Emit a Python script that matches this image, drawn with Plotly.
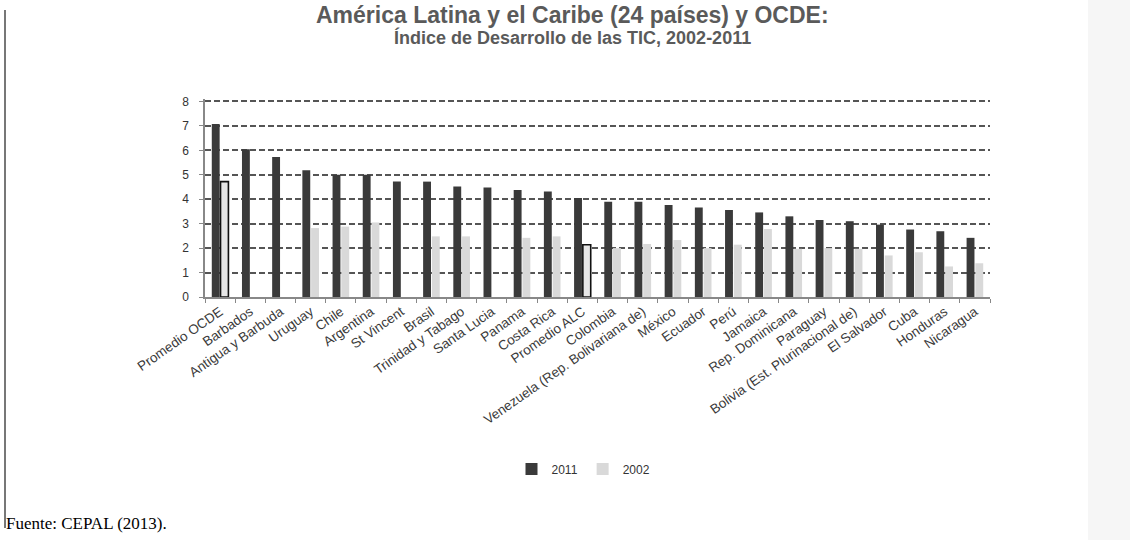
import plotly.graph_objects as go

categories = ["Promedio OCDE", "Barbados", "Antigua y Barbuda", "Uruguay", "Chile", "Argentina",
              "St Vincent", "Brasil", "Trinidad y Tabago", "Santa Lucia", "Panama", "Costa Rica",
              "Promedio ALC", "Colombia", "Venezuela (Rep. Bolivariana de)", "México", "Ecuador",
              "Perú", "Jamaica", "Rep. Dominicana", "Paraguay", "Bolivia (Est. Plurinacional de)",
              "El Salvador", "Cuba", "Honduras", "Nicaragua"]

val2011 = [7.08, 6.04, 5.73, 5.19, 5.00, 5.00, 4.72, 4.72, 4.52, 4.48, 4.38, 4.32,
           4.05, 3.90, 3.90, 3.76, 3.66, 3.56, 3.46, 3.30, 3.15, 3.10, 2.96, 2.76, 2.69, 2.42]
val2002 = [4.72, None, None, 2.82, 2.88, 3.05, None, 2.48, 2.48, None, 2.42, 2.48,
           2.14, 2.00, 2.17, 2.33, 2.00, 2.14, 2.78, 1.97, 2.00, 1.97, 1.70, 1.83, 1.25, 1.38]
series_names = ["2011", "2002"]
yticks = [0, 1, 2, 3, 4, 5, 6, 7, 8]
title_lines = ["América Latina y el Caribe (24 países) y OCDE:",
               "Índice de Desarrollo de las TIC, 2002-2011"]

W, H = 1130, 540
L, R, T, B = 205, 140, 99, 243
PW, PH = W - L - R, H - T - B

def px_x(p):
    return (p - L) / PW

def px_y(p):
    return (H - B - p) / PH

is_avg = [c.startswith("Promedio") for c in categories]
v2002_plain = [None if a else v for v, a in zip(val2002, is_avg)]
v2002_avg = [v if a else None for v, a in zip(val2002, is_avg)]

DARK = "#3a3a3a"
LIGHT = "#d9d9d9"

fig = go.Figure()
fig.add_trace(go.Bar(x=categories, y=val2011, name=series_names[0], offsetgroup="a",
                     marker=dict(color=DARK, line=dict(width=0))))
fig.add_trace(go.Bar(x=categories, y=v2002_plain, name=series_names[1], offsetgroup="b",
                     marker=dict(color=LIGHT, line=dict(width=0))))
fig.add_trace(go.Bar(x=categories, y=v2002_avg, name=series_names[1], offsetgroup="b",
                     showlegend=False,
                     marker=dict(color="#e6e6e6", line=dict(width=1.6, color="#111111"))))

font_fam = "Liberation Sans, Arial, sans-serif"

fig.update_layout(
    width=W, height=H,
    margin=dict(l=L, r=R, t=T, b=B),
    paper_bgcolor="white", plot_bgcolor="white",
    barmode="group", bargap=0.42, bargroupgap=0.1,
    font=dict(family=font_fam, color="#404040"),
    legend=dict(orientation="h", x=0.5 - 14 / PW, xanchor="center", y=px_y(469), yanchor="middle",
                font=dict(size=12, color="#333333"), bgcolor="rgba(0,0,0,0)",
                itemwidth=30, traceorder="normal"),
    showlegend=True,
)

for txt, yc, fs in zip(title_lines, [15, 38], [23, 18]):
    fig.add_annotation(text="<b>" + txt + "</b>", xref="paper", yref="paper",
                       x=px_x(572), y=px_y(yc), xanchor="center", yanchor="middle",
                       showarrow=False,
                       font=dict(family=font_fam, size=fs, color="#5a5a5a"))

fig.update_xaxes(
    type="category", automargin=False,
    tickangle=-35, tickfont=dict(size=13.5, color="#3a3a3a"),
    showline=True, linecolor="#888888", linewidth=1.5,
    ticks="outside", tickson="boundaries", ticklen=4, tickcolor="#888888",
    showgrid=False,
)
fig.update_yaxes(
    range=[0, 8.1], tickvals=yticks, automargin=False,
    tickfont=dict(size=12, color="#333333"),
    showline=True, linecolor="#888888", linewidth=1.5,
    ticks="outside", ticklen=4, tickcolor="#888888", ticklabelstandoff=8,
    showgrid=True, gridcolor="#555555", gridwidth=2, griddash="6px,3px",
    zeroline=False,
)

# page frame elements
fig.add_shape(type="rect", xref="paper", yref="paper",
              x0=px_x(1088), x1=px_x(1130), y0=px_y(0), y1=px_y(540),
              fillcolor="#f6f6f6", line=dict(width=0), layer="below")
fig.add_shape(type="line", xref="paper", yref="paper",
              x0=px_x(5), x1=px_x(5), y0=px_y(10), y1=px_y(528),
              line=dict(color="#777777", width=2))

fig.add_annotation(text="Fuente: CEPAL (2013).", xref="paper", yref="paper",
                   x=px_x(4), y=px_y(523), xanchor="left", yanchor="middle",
                   showarrow=False,
                   font=dict(family="Liberation Serif, Times New Roman, serif", size=17, color="#000000"))

fig.write_html("out.html")
